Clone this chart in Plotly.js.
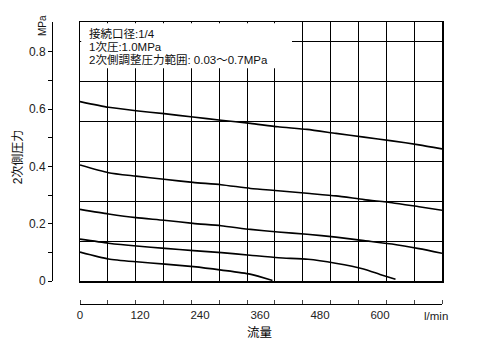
<!DOCTYPE html>
<html>
<head>
<meta charset="utf-8">
<script src="https://cdn.plot.ly/plotly-3.0.1.min.js"></script>
<style>html,body{margin:0;padding:0;background:#fff;}#chart{width:479px;height:354px;}</style>
</head>
<body>
<div id="chart"></div>
<script>
// Flow (l/min) and secondary pressure (MPa)
const flowFull = [0, 57, 112, 168, 226, 282, 341, 396, 454, 512, 568, 624, 678, 724];
const pressure1 = [0.626, 0.606, 0.594, 0.584, 0.572, 0.561, 0.550, 0.538, 0.529, 0.515, 0.502, 0.489, 0.475, 0.461];
const pressure2 = [0.405, 0.378, 0.366, 0.355, 0.344, 0.336, 0.323, 0.315, 0.306, 0.297, 0.284, 0.273, 0.259, 0.247];
const pressure3 = [0.250, 0.234, 0.221, 0.212, 0.201, 0.193, 0.180, 0.171, 0.163, 0.153, 0.141, 0.129, 0.113, 0.097];
const flow4 = [0, 57, 113, 170, 227, 283, 340, 397, 456, 511, 567, 600, 631];
const pressure4 = [0.146, 0.132, 0.122, 0.114, 0.106, 0.099, 0.090, 0.081, 0.076, 0.062, 0.042, 0.023, 0.006];
const flow5 = [0, 57, 113, 170, 227, 283, 340, 385];
const pressure5 = [0.101, 0.077, 0.067, 0.059, 0.050, 0.038, 0.024, 0.002];

const xTickVals = [0, 120, 240, 360, 480, 600];
const xTickText = ['0', '120', '240', '360', '480', '600'];
const yTickVals = [0, 0.1, 0.2, 0.3, 0.4, 0.5, 0.6, 0.7, 0.8];
const yTickText = ['0', '', '0.2', '', '0.4', '', '0.6', '', '0.8'];

const infoLines = ['接続口径:1/4', '1次圧:1.0MPa', '2次側調整圧力範囲: 0.03～0.7MPa'];
const xUnit = 'l/min';
const xTitle = '流量';
const yTitle = '2次側圧力';
const yUnit = 'MPa';

const FONT = 'Liberation Sans, Arial, Noto Sans CJK JP, sans-serif';
const X_MAX = 724;
const Y_MAX = 0.9037;
const X_GRID = X_MAX / 13;
const minorTickVals = Array.from({length: 14}, (_, i) => i * X_GRID);

const series = [[flowFull, pressure1], [flowFull, pressure2], [flowFull, pressure3], [flow4, pressure4], [flow5, pressure5]];
const traces = series.map(([xs, ys]) => ({
  x: xs, y: ys, type: 'scatter', mode: 'lines',
  line: {color: '#000', width: 1.6, shape: 'spline', smoothing: 0.6},
  xaxis: 'x', yaxis: 'y', hoverinfo: 'skip'
}));
// empty helper traces so the separate axis subplots exist
traces.push({x: [], y: [], type: 'scatter', mode: 'lines', xaxis: 'x2', yaxis: 'y2', hoverinfo: 'skip'});
traces.push({x: [], y: [], type: 'scatter', mode: 'lines', xaxis: 'x3', yaxis: 'y3', hoverinfo: 'skip'});

const W = 479, H = 354;
const mL = 53, mR = 37, mT = 22, mB = 50;
const pw = W - mL - mR, ph = H - mT - mB;
const px = v => (v - mL) / pw;      // pixel -> paper x
const py = v => (H - mB - v) / ph;  // pixel -> paper y

const hidden = {showgrid: false, zeroline: false, showline: false, showticklabels: false, ticks: ''};

const layout = {
  width: W, height: H,
  margin: {l: mL, r: mR, t: mT, b: mB, pad: 0},
  paper_bgcolor: '#fff', plot_bgcolor: 'rgba(0,0,0,0)',
  showlegend: false,
  font: {family: FONT, size: 12, color: '#222'},
  // main plot box
  xaxis: {
    domain: [px(80), 1], range: [0, X_MAX], anchor: 'y',
    tick0: 0, dtick: X_GRID,
    showgrid: true, gridcolor: '#000', gridwidth: 1,
    showticklabels: false, ticks: '', zeroline: false,
    showline: true, mirror: true, linecolor: '#000', linewidth: 1.5
  },
  yaxis: {
    domain: [py(281), 1], range: [0, Y_MAX], anchor: 'x',
    tick0: 0, dtick: Y_MAX / 6.5,
    showgrid: true, gridcolor: '#000', gridwidth: 1,
    showticklabels: false, ticks: '', zeroline: false,
    showline: true, mirror: true, linecolor: '#000', linewidth: 1.5
  },
  // detached left pressure axis
  xaxis2: Object.assign({domain: [0, 0.002], range: [0, 1], anchor: 'y2'}, hidden),
  yaxis2: {
    domain: [py(281), 1], range: [0, Y_MAX], anchor: 'x2', side: 'left',
    tickmode: 'array', tickvals: yTickVals, ticktext: yTickText,
    ticks: 'outside', ticklen: 4, tickcolor: '#000', tickwidth: 1,
    showgrid: false, zeroline: false,
    showline: true, linecolor: '#000', linewidth: 1,
    tickfont: {family: FONT, size: 12, color: '#222'}
  },
  // detached bottom flow axis
  yaxis3: Object.assign({domain: [0, 0.002], range: [0, 1], anchor: 'x3'}, hidden),
  xaxis3: {
    domain: [px(80), 1], range: [0, X_MAX], anchor: 'y3', side: 'bottom',
    tickmode: 'array', tickvals: xTickVals, ticktext: xTickText,
    ticks: '', showgrid: false, zeroline: false,
    showline: true, linecolor: '#000', linewidth: 1,
    tickfont: {family: FONT, size: 11.5, color: '#222'},
    minor: {tickmode: 'array', tickvals: minorTickVals, ticks: 'inside', ticklen: 4, tickcolor: '#444', tickwidth: 1, showgrid: false}
  },
  shapes: [{
    type: 'rect', xref: 'paper', yref: 'paper', layer: 'above',
    x0: px(81.2), x1: px(292), y0: py(68.3), y1: py(23.2),
    fillcolor: '#fff', line: {width: 0}
  }],
  annotations: [
    {text: infoLines[0], xref: 'paper', yref: 'paper', x: px(87), y: py(33.3), xanchor: 'left', yanchor: 'middle', showarrow: false, font: {family: FONT, size: 11.5, color: '#111'}},
    {text: infoLines[1], xref: 'paper', yref: 'paper', x: px(87), y: py(46.5), xanchor: 'left', yanchor: 'middle', showarrow: false, font: {family: FONT, size: 11.5, color: '#111'}},
    {text: infoLines[2], xref: 'paper', yref: 'paper', x: px(87), y: py(59.3), xanchor: 'left', yanchor: 'middle', showarrow: false, font: {family: FONT, size: 11.5, color: '#111'}},
    {text: xUnit, xref: 'paper', yref: 'paper', x: px(435.5), y: py(315.5), xanchor: 'center', yanchor: 'middle', showarrow: false, font: {family: FONT, size: 11.5, color: '#222'}},
    {text: xTitle, xref: 'paper', yref: 'paper', x: px(259.5), y: py(333), xanchor: 'center', yanchor: 'middle', showarrow: false, font: {family: FONT, size: 12.5, color: '#000'}},
    {text: yTitle, xref: 'paper', yref: 'paper', x: px(18.3), y: py(157), xanchor: 'center', yanchor: 'middle', textangle: -90, showarrow: false, font: {family: FONT, size: 12, color: '#111'}},
    {text: yUnit, xref: 'paper', yref: 'paper', x: px(42), y: py(26), xanchor: 'center', yanchor: 'middle', textangle: -90, showarrow: false, font: {family: FONT, size: 10, color: '#111'}}
  ]
};

Plotly.newPlot('chart', traces, layout, {staticPlot: true, displayModeBar: false});
</script>
</body>
</html>
